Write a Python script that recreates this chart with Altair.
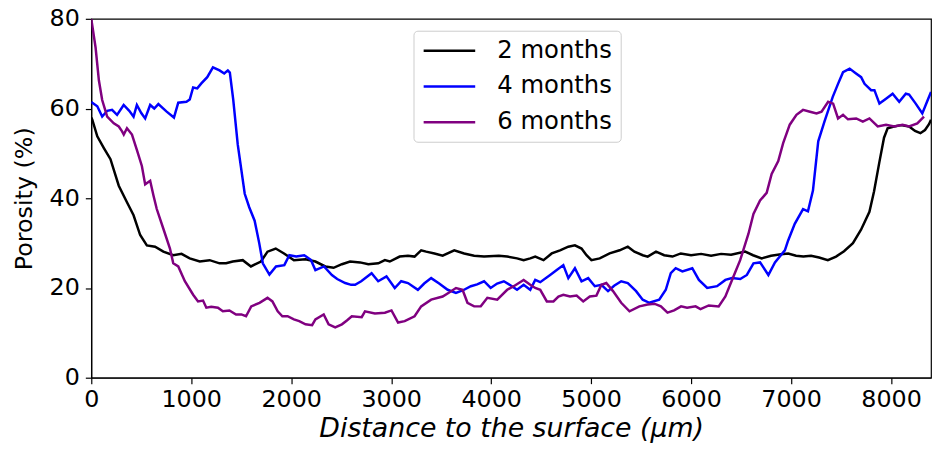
import altair as alt
import pandas as pd

# ---- data ----
series_names = ["2 months", "4 months", "6 months"]
series_colors = ["#000000", "#0000ff", "#800080"]

x_2m = [0, 10, 60, 126, 192, 275, 357, 423, 489, 556, 638, 721, 820, 903, 985, 1085, 1184, 1283, 1349, 1415,
        1515, 1597, 1697, 1763, 1845, 1928, 2027, 2143, 2242, 2341, 2424, 2507, 2589, 2689, 2771, 2871, 2937,
        2986, 3085, 3168, 3234, 3300, 3350, 3433, 3515, 3631, 3730, 3830, 3929, 4077, 4160, 4259, 4325, 4391,
        4441, 4524, 4606, 4689, 4772, 4838, 4904, 4954, 5003, 5086, 5185, 5285, 5367, 5433, 5516, 5566, 5649,
        5731, 5814, 5897, 6000, 6100, 6200, 6300, 6400, 6541, 6620, 6706, 6800, 6900, 6971, 7050, 7123, 7200,
        7280, 7368, 7450, 7530, 7619, 7700, 7784, 7830, 7883, 7930, 7966, 8030, 8100, 8181, 8240, 8294, 8340,
        8380, 8400]
y_2m = [58.0, 57.5, 53.8, 51.2, 48.7, 42.8, 39.1, 36.2, 31.8, 29.5, 29.2, 28.1, 27.3, 27.6, 26.6, 25.9, 26.2,
        25.5, 25.5, 25.9, 26.2, 24.8, 25.9, 28.1, 28.8, 27.7, 26.2, 26.4, 25.9, 24.8, 24.5, 25.3, 25.9, 25.7,
        25.3, 25.5, 26.2, 25.9, 27.0, 27.2, 27.0, 28.4, 28.1, 27.7, 27.2, 28.4, 27.7, 27.2, 27.0, 27.2, 27.0,
        26.6, 26.2, 26.6, 27.0, 26.2, 27.7, 28.4, 29.2, 29.5, 28.8, 27.3, 26.2, 26.6, 27.7, 28.4, 29.2, 28.1,
        27.3, 27.0, 28.1, 27.3, 27.0, 27.7, 27.3, 27.6, 27.2, 27.6, 27.4, 28.1, 27.3, 26.6, 27.2, 27.5, 27.7,
        27.2, 27.0, 27.2, 26.8, 26.2, 27.0, 28.2, 30.0, 33.0, 37.0, 41.5, 48.0, 53.5, 55.6, 56.0, 56.3, 56.0,
        55.0, 54.5, 55.2, 56.5, 57.5]

x_4m = [0, 10, 60, 109, 160, 208, 258, 324, 380, 423, 456, 500, 539, 589, 630, 671, 754, 827, 870, 952, 985,
        1019, 1060, 1101, 1160, 1217, 1283, 1330, 1366, 1386, 1420, 1465, 1535, 1580, 1634, 1680, 1716, 1782,
        1848, 1931, 1981, 2050, 2130, 2196, 2242, 2328, 2407, 2460, 2540, 2600, 2639, 2700, 2804, 2870, 2953,
        3036, 3100, 3168, 3267, 3330, 3400, 3480, 3565, 3648, 3720, 3797, 3860, 3929, 3995, 4060, 4127, 4200,
        4259, 4325, 4391, 4441, 4491, 4590, 4656, 4722, 4772, 4838, 4904, 4971, 5037, 5103, 5169, 5230, 5301,
        5367, 5450, 5516, 5582, 5681, 5747, 5797, 5846, 5913, 6012, 6078, 6161, 6260, 6343, 6409, 6492, 6558,
        6624, 6690, 6773, 6839, 6938, 6971, 7037, 7120, 7169, 7219, 7272, 7334, 7417, 7470, 7520, 7586, 7640,
        7701, 7735, 7801, 7834, 7884, 7950, 8016, 8082, 8148, 8181, 8247, 8313, 8360, 8400]
y_4m = [61.5, 61.3, 60.5, 58.2, 59.5, 59.7, 58.6, 60.8, 59.5, 58.2, 60.8, 59.0, 57.8, 60.8, 60.0, 61.0, 59.3,
        58.0, 61.3, 61.5, 62.0, 64.7, 64.5, 65.6, 67.0, 69.2, 68.5, 67.8, 68.5, 68.0, 62.0, 52.0, 41.0, 38.0,
        35.0, 30.0, 25.5, 23.0, 24.8, 25.1, 27.3, 27.0, 27.3, 26.3, 24.0, 24.8, 22.9, 22.0, 21.1, 20.7, 20.7,
        21.5, 23.3, 21.5, 22.6, 20.0, 21.5, 21.1, 19.6, 21.0, 22.2, 21.0, 19.6, 18.9, 19.5, 20.4, 20.8, 21.5,
        20.0, 21.0, 21.5, 20.5, 19.6, 20.7, 19.6, 21.8, 21.3, 22.9, 24.0, 25.1, 22.2, 24.4, 21.5, 22.2, 20.4,
        20.7, 19.3, 20.5, 21.5, 21.1, 19.3, 17.4, 16.7, 17.4, 19.6, 23.3, 24.4, 23.7, 24.4, 21.8, 20.0, 20.4,
        21.8, 22.2, 22.0, 22.9, 25.5, 25.7, 22.9, 25.7, 28.4, 30.6, 34.3, 37.6, 37.1, 41.7, 52.7, 57.1, 62.6,
        65.5, 68.1, 68.9, 68.0, 67.0, 65.5, 64.1, 64.1, 61.1, 62.2, 63.3, 61.5, 63.3, 63.1, 61.1, 58.9, 61.5,
        63.7]

x_6m = [0, 43, 76, 109, 159, 225, 275, 308, 325, 357, 407, 456, 506, 539, 589, 622, 655, 721, 787, 820, 870,
        936, 1019, 1068, 1118, 1151, 1200, 1267, 1316, 1382, 1448, 1501, 1548, 1600, 1683, 1763, 1812, 1865,
        1911, 1964, 2027, 2080, 2143, 2209, 2242, 2325, 2374, 2440, 2507, 2560, 2606, 2705, 2738, 2837, 2937,
        3003, 3069, 3135, 3234, 3300, 3400, 3515, 3580, 3648, 3714, 3763, 3830, 3896, 3962, 4061, 4160, 4226,
        4325, 4391, 4441, 4491, 4557, 4623, 4673, 4722, 4789, 4855, 4921, 4987, 5053, 5103, 5152, 5219, 5301,
        5384, 5483, 5565, 5632, 5698, 5764, 5830, 5900, 5960, 6045, 6094, 6177, 6276, 6343, 6425, 6491, 6574,
        6624, 6690, 6756, 6806, 6872, 6921, 6987, 7054, 7120, 7189, 7255, 7305, 7371, 7421, 7470, 7520, 7569,
        7652, 7718, 7784, 7867, 7950, 8032, 8115, 8181, 8263, 8330]
y_6m = [80.0, 73.6, 66.3, 61.9, 58.2, 56.7, 56.0, 54.9, 54.2, 55.6, 54.2, 50.8, 47.2, 43.1, 43.9, 40.6, 37.6,
        33.2, 28.8, 25.5, 24.8, 21.5, 18.5, 17.0, 17.2, 15.6, 15.8, 15.6, 14.8, 15.0, 14.1, 14.1, 13.7, 15.9,
        16.7, 17.8, 17.0, 14.8, 13.7, 13.7, 13.0, 12.6, 11.9, 11.7, 13.0, 14.1, 11.9, 11.2, 11.9, 12.8, 13.7,
        13.5, 14.8, 14.3, 14.5, 15.0, 12.3, 12.6, 13.7, 15.9, 17.4, 18.1, 19.0, 20.0, 19.6, 16.7, 15.9, 15.9,
        17.8, 17.4, 19.6, 20.4, 21.8, 20.7, 20.0, 19.6, 17.0, 17.0, 18.1, 18.5, 18.1, 18.3, 17.0, 18.1, 18.3,
        20.7, 21.1, 19.3, 16.7, 14.8, 15.9, 16.3, 16.5, 15.9, 14.5, 15.0, 15.9, 15.6, 15.9, 15.3, 16.1, 15.9,
        18.1, 22.6, 26.2, 32.1, 36.5, 39.5, 41.2, 45.4, 48.3, 52.3, 56.4, 58.6, 59.7, 59.3, 58.9, 59.3, 61.5,
        61.1, 57.8, 58.6, 57.6, 57.8, 57.1, 57.8, 56.0, 56.4, 56.0, 56.4, 56.0, 56.7, 58.2]

x_ticks = [0, 1000, 2000, 3000, 4000, 5000, 6000, 7000, 8000]
y_ticks = [0, 20, 40, 60, 80]

rows = []
for name, xs, ys in zip(series_names, [x_2m, x_4m, x_6m], [y_2m, y_4m, y_6m]):
    for a, b in zip(xs, ys):
        rows.append({"series": name, "x": a, "y": b})
df = pd.DataFrame(rows)

FONT = "DejaVu Sans"

chart = alt.Chart(df).mark_line(strokeWidth=2.5, clip=True).encode(
    x=alt.X("x:Q",
            scale=alt.Scale(domain=[0, 8400], nice=False, zero=False),
            axis=alt.Axis(title="Distance to the surface (µm)", values=x_ticks, format="d",
                          titleFontStyle="italic", titleFontSize=27, titlePadding=4,
                          labelPadding=4)),
    y=alt.Y("y:Q",
            scale=alt.Scale(domain=[0, 80], nice=False),
            axis=alt.Axis(title="Porosity (%)", values=y_ticks, titleFontSize=24,
                          titlePadding=13, labelPadding=6)),
    color=alt.Color("series:N",
                    scale=alt.Scale(domain=series_names, range=series_colors),
                    legend=alt.Legend(orient="none", legendX=325, legendY=12, title=None,
                                      symbolType="M-2.6,0H2.6", symbolSize=400,
                                      symbolStrokeWidth=2.5, symbolOffset=16,
                                      labelOffset=36, labelFontSize=24.5, labelFont=FONT,
                                      labelColor="black", labelLimit=0,
                                      rowPadding=11, padding=8,
                                      strokeColor="#cccccc", fillColor="white",
                                      cornerRadius=4)),
).properties(
    width=847, height=362,
    autosize=alt.AutoSizeParams(type="none"),
    padding={"left": 84, "top": 9, "right": 1, "bottom": 70},
).configure_view(
    stroke="black", strokeWidth=1.2
).configure_axis(
    labelFont=FONT, titleFont=FONT, labelFontSize=24, labelColor="black",
    titleColor="black", titleFontWeight="normal", tickColor="black",
    domainColor="black", tickSize=6, grid=False, labelFlush=False,
    labelOverlap=False, domainWidth=1.2, tickWidth=1.2
)

chart.save("out.html", embed_options={"renderer": "svg", "actions": False})
